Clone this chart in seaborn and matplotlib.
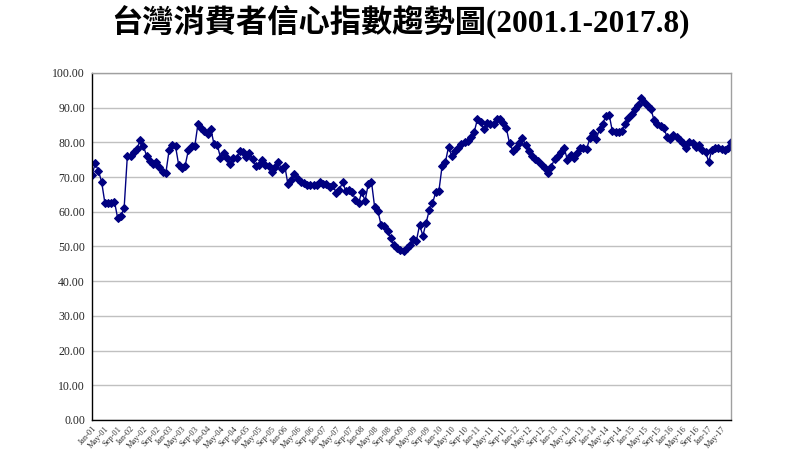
# 台灣消費者信心指數趨勢圖 (2001.1-2017.8)

import numpy as np
import pandas as pd
import matplotlib
matplotlib.use('Agg')
import matplotlib.pyplot as plt
import seaborn as sns

# Données mensuelles (une liste par année)
cci_2001 = [70.6, 73.9, 71.8, 68.6, 62.6, 62.4, 62.6, 62.9, 58.1, 58.9, 61.0, 76.0]
cci_2002 = [76.0, 77.3, 78.2, 80.6, 78.9, 76.1, 74.6, 73.7, 74.4, 73.0, 71.5, 71.2]
cci_2003 = [77.7, 79.2, 78.9, 73.4, 72.5, 73.3, 77.7, 78.9, 78.9, 85.4, 84.0, 83.2]
cci_2004 = [82.5, 83.8, 79.4, 79.2, 75.6, 77.0, 75.4, 73.7, 75.6, 75.4, 77.6, 77.3]
cci_2005 = [75.8, 77.0, 75.2, 73.3, 73.4, 74.9, 73.4, 73.2, 71.5, 72.9, 74.2, 72.3]
cci_2006 = [73.3, 67.9, 69.1, 70.8, 69.3, 68.7, 68.2, 67.7, 67.8, 67.6, 67.8, 68.7]
cci_2007 = [67.9, 68.0, 67.2, 67.8, 65.3, 66.3, 68.5, 66.0, 66.3, 65.7, 63.4, 62.5]
cci_2008 = [65.8, 63.1, 67.9, 68.7, 61.3, 60.2, 56.2, 55.9, 54.5, 52.4, 50.3, 49.5]
cci_2009 = [49.0, 48.6, 49.5, 50.3, 52.2, 51.7, 56.2, 53.1, 56.7, 60.5, 62.4, 65.6]
cci_2010 = [66.0, 73.2, 74.2, 78.7, 76.0, 77.6, 78.5, 79.5, 80.1, 80.3, 81.6, 83.0]
cci_2011 = [86.7, 85.9, 83.7, 85.7, 85.4, 85.2, 86.8, 86.8, 85.6, 84.0, 79.7, 77.6]
cci_2012 = [78.4, 79.9, 81.3, 79.2, 77.5, 76.1, 75.2, 74.6, 73.4, 72.5, 71.3, 73.0]
cci_2013 = [75.2, 76.1, 77.3, 78.4, 74.9, 76.3, 75.6, 76.8, 78.4, 78.4, 78.2, 81.1]
cci_2014 = [82.8, 80.9, 83.8, 85.4, 87.6, 88.0, 83.2, 83.0, 83.0, 83.2, 85.2, 87.0]
cci_2015 = [88.3, 89.5, 90.8, 92.8, 91.6, 90.5, 89.5, 86.4, 85.4, 84.7, 84.2, 81.6]
cci_2016 = [80.9, 82.2, 81.4, 80.6, 79.7, 78.4, 80.1, 79.7, 78.7, 79.2, 77.9, 77.3]
cci_2017 = [74.4, 77.8, 78.4, 78.4, 78.2, 77.9, 78.5, 80.0]

# Étiquettes de l'axe X (tous les 4 mois)
etiquettes_x = [
    'Jan-01', 'May-01', 'Sep-01', 'Jan-02', 'May-02', 'Sep-02',
    'Jan-03', 'May-03', 'Sep-03', 'Jan-04', 'May-04', 'Sep-04',
    'Jan-05', 'May-05', 'Sep-05', 'Jan-06', 'May-06', 'Sep-06',
    'Jan-07', 'May-07', 'Sep-07', 'Jan-08', 'May-08', 'Sep-08',
    'Jan-09', 'May-09', 'Sep-09', 'Jan-10', 'May-10', 'Sep-10',
    'Jan-11', 'May-11', 'Sep-11', 'Jan-12', 'May-12', 'Sep-12',
    'Jan-13', 'May-13', 'Sep-13', 'Jan-14', 'May-14', 'Sep-14',
    'Jan-15', 'May-15', 'Sep-15', 'Jan-16', 'May-16', 'Sep-16',
    'Jan-17', 'May-17',
]

titre = '台灣消費者信心指數趨勢圖(2001.1-2017.8)'

valeurs = (cci_2001 + cci_2002 + cci_2003 + cci_2004 + cci_2005 + cci_2006
           + cci_2007 + cci_2008 + cci_2009 + cci_2010 + cci_2011 + cci_2012
           + cci_2013 + cci_2014 + cci_2015 + cci_2016 + cci_2017)
df = pd.DataFrame({'mois': np.arange(len(valeurs)), 'cci': valeurs})

sns.set_style('white')
plt.rcParams['font.family'] = ['Liberation Serif', 'Noto Sans CJK TC', 'DejaVu Sans']

fig = plt.figure(figsize=(8, 4.5), dpi=100)
ax = fig.add_axes([0.115, 0.0667, 0.799, 0.7713])

sns.lineplot(data=df, x='mois', y='cci', ax=ax, color='#000080', linewidth=1,
             marker='D', markersize=3.8, markeredgecolor='#000080')

ax.set_xlim(0, len(valeurs) - 1)
ax.set_ylim(0, 100)
ax.set_yticks(np.arange(0, 101, 10))
ax.set_yticklabels([f'{v:.2f}' for v in np.arange(0, 101, 10)], fontsize=8.5)
ax.set_xticks(np.arange(0, 4 * len(etiquettes_x), 4))
ax.set_xticklabels(etiquettes_x, rotation=48, ha='right', va='top',
                   rotation_mode='anchor', fontsize=6, color='#333333')
ax.set_xlabel('')
ax.set_ylabel('')

ax.grid(True, axis='y', color='#c0c0c0', linewidth=1)
ax.set_axisbelow(True)
ax.tick_params(axis='y', direction='out', length=3, width=0.8, color='black', pad=2)
ax.tick_params(axis='x', direction='out', length=2.5, width=0.8, color='black', pad=1)
for cote in ['left', 'bottom']:
    ax.spines[cote].set_color('black')
    ax.spines[cote].set_linewidth(1)
for cote in ['top', 'right']:
    ax.spines[cote].set_color('#a0a0a0')
    ax.spines[cote].set_linewidth(1)

fig.text(0.5, 0.95, titre, ha='center', va='center', fontsize=22.5, fontweight='bold',
         color='black')

plt.savefig('out.png', dpi=100)
